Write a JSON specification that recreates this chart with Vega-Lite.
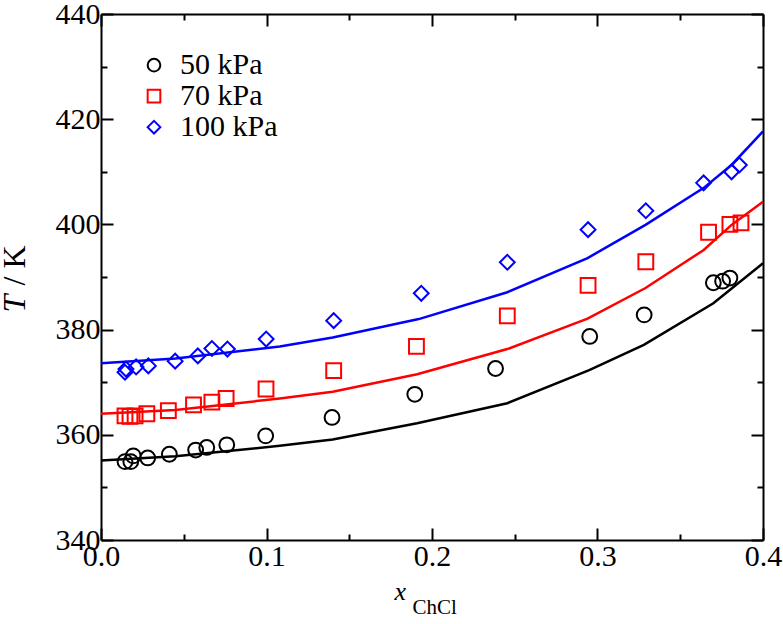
{
  "$schema": "https://vega.github.io/schema/vega-lite/v6.json",
  "width": 662,
  "height": 526,
  "autosize": "none",
  "padding": {"left": 101, "top": 14, "right": 20, "bottom": 84},
  "background": "white",
  "datasets": {
    "points": [
      {"series": "50 kPa", "x": 0.0145, "T": 354.9},
      {"series": "50 kPa", "x": 0.018, "T": 354.9},
      {"series": "50 kPa", "x": 0.0195, "T": 356.0},
      {"series": "50 kPa", "x": 0.0282, "T": 355.6},
      {"series": "50 kPa", "x": 0.0413, "T": 356.3},
      {"series": "50 kPa", "x": 0.0572, "T": 357.1},
      {"series": "50 kPa", "x": 0.0639, "T": 357.6},
      {"series": "50 kPa", "x": 0.076, "T": 358.1},
      {"series": "50 kPa", "x": 0.0995, "T": 359.8},
      {"series": "50 kPa", "x": 0.1396, "T": 363.3},
      {"series": "50 kPa", "x": 0.1896, "T": 367.7},
      {"series": "50 kPa", "x": 0.2384, "T": 372.6},
      {"series": "50 kPa", "x": 0.2953, "T": 378.7},
      {"series": "50 kPa", "x": 0.3282, "T": 382.8},
      {"series": "50 kPa", "x": 0.37, "T": 388.9},
      {"series": "50 kPa", "x": 0.3756, "T": 389.2},
      {"series": "50 kPa", "x": 0.38, "T": 389.8},
      {"series": "70 kPa", "x": 0.0145, "T": 363.6},
      {"series": "70 kPa", "x": 0.0175, "T": 363.5},
      {"series": "70 kPa", "x": 0.0206, "T": 363.6},
      {"series": "70 kPa", "x": 0.0277, "T": 364.0},
      {"series": "70 kPa", "x": 0.0407, "T": 364.6},
      {"series": "70 kPa", "x": 0.0559, "T": 365.7},
      {"series": "70 kPa", "x": 0.067, "T": 366.2},
      {"series": "70 kPa", "x": 0.0756, "T": 366.9},
      {"series": "70 kPa", "x": 0.0997, "T": 368.7},
      {"series": "70 kPa", "x": 0.1406, "T": 372.2},
      {"series": "70 kPa", "x": 0.1906, "T": 376.8},
      {"series": "70 kPa", "x": 0.2455, "T": 382.6},
      {"series": "70 kPa", "x": 0.2943, "T": 388.4},
      {"series": "70 kPa", "x": 0.3292, "T": 392.9},
      {"series": "70 kPa", "x": 0.3671, "T": 398.5},
      {"series": "70 kPa", "x": 0.38, "T": 400.0},
      {"series": "70 kPa", "x": 0.3867, "T": 400.3},
      {"series": "100 kPa", "x": 0.0145, "T": 371.9},
      {"series": "100 kPa", "x": 0.0151, "T": 372.5},
      {"series": "100 kPa", "x": 0.0212, "T": 372.9},
      {"series": "100 kPa", "x": 0.0286, "T": 373.1},
      {"series": "100 kPa", "x": 0.0448, "T": 374.0},
      {"series": "100 kPa", "x": 0.0585, "T": 375.0},
      {"series": "100 kPa", "x": 0.067, "T": 376.4},
      {"series": "100 kPa", "x": 0.0764, "T": 376.3},
      {"series": "100 kPa", "x": 0.0998, "T": 378.2},
      {"series": "100 kPa", "x": 0.1406, "T": 381.7},
      {"series": "100 kPa", "x": 0.1935, "T": 386.9},
      {"series": "100 kPa", "x": 0.2455, "T": 392.8},
      {"series": "100 kPa", "x": 0.2943, "T": 399.0},
      {"series": "100 kPa", "x": 0.3292, "T": 402.6},
      {"series": "100 kPa", "x": 0.3641, "T": 407.9},
      {"series": "100 kPa", "x": 0.381, "T": 410.0},
      {"series": "100 kPa", "x": 0.3857, "T": 411.3}
    ],
    "lines": [
      {"series": "50 kPa", "x": 0.0, "T": 355.1},
      {"series": "50 kPa", "x": 0.045, "T": 355.9},
      {"series": "50 kPa", "x": 0.108, "T": 357.9},
      {"series": "50 kPa", "x": 0.14, "T": 359.1},
      {"series": "50 kPa", "x": 0.191, "T": 362.2},
      {"series": "50 kPa", "x": 0.2455, "T": 366.0},
      {"series": "50 kPa", "x": 0.295, "T": 372.3},
      {"series": "50 kPa", "x": 0.328, "T": 377.1},
      {"series": "50 kPa", "x": 0.37, "T": 385.0},
      {"series": "50 kPa", "x": 0.4, "T": 392.6},
      {"series": "70 kPa", "x": 0.0, "T": 364.0},
      {"series": "70 kPa", "x": 0.045, "T": 364.7},
      {"series": "70 kPa", "x": 0.108, "T": 366.9},
      {"series": "70 kPa", "x": 0.14, "T": 368.2},
      {"series": "70 kPa", "x": 0.191, "T": 371.5},
      {"series": "70 kPa", "x": 0.2455, "T": 376.3},
      {"series": "70 kPa", "x": 0.294, "T": 382.1},
      {"series": "70 kPa", "x": 0.329, "T": 387.9},
      {"series": "70 kPa", "x": 0.364, "T": 395.1},
      {"series": "70 kPa", "x": 0.381, "T": 399.9},
      {"series": "70 kPa", "x": 0.4, "T": 404.3},
      {"series": "100 kPa", "x": 0.0, "T": 373.6},
      {"series": "100 kPa", "x": 0.045, "T": 374.5},
      {"series": "100 kPa", "x": 0.108, "T": 376.8},
      {"series": "100 kPa", "x": 0.14, "T": 378.5},
      {"series": "100 kPa", "x": 0.192, "T": 382.0},
      {"series": "100 kPa", "x": 0.2455, "T": 387.1},
      {"series": "100 kPa", "x": 0.294, "T": 393.6},
      {"series": "100 kPa", "x": 0.329, "T": 399.9},
      {"series": "100 kPa", "x": 0.364, "T": 406.9},
      {"series": "100 kPa", "x": 0.381, "T": 411.3},
      {"series": "100 kPa", "x": 0.4, "T": 417.7}
    ]
  },
  "config": {
    "view": {"stroke": null},
    "font": "Liberation Serif",
    "axis": {
      "grid": false,
      "domainColor": "black",
      "domainWidth": 2,
      "tickColor": "black",
      "tickWidth": 2,
      "labelFont": "Liberation Serif",
      "labelFontSize": 30,
      "labelColor": "black",
      "titleFont": "Liberation Serif",
      "titleColor": "black",
      "titleFontWeight": "normal"
    },
    "legend": {
      "labelFont": "Liberation Serif",
      "labelFontSize": 30,
      "labelColor": "black",
      "orient": "none",
      "legendX": 38,
      "legendY": 37,
      "symbolSize": 160,
      "symbolStrokeWidth": 2,
      "labelOffset": 11,
      "rowPadding": 0,
      "clipHeight": 28.3,
      "padding": 0
    }
  },
  "resolve": {"axis": {"x": "independent", "y": "independent"}, "legend": {"color": "independent", "shape": "independent"}},
  "layer": [
    {
      "data": {"name": "lines"},
      "mark": {"type": "line", "strokeWidth": 2.5, "interpolate": "linear"},
      "encoding": {
        "x": {"field": "x", "type": "quantitative",
          "scale": {"domain": [0, 0.4], "nice": false, "zero": false},
          "axis": {"orient": "bottom", "values": [0, 0.1, 0.2, 0.3, 0.4], "format": ".1f",
            "tickSize": -12, "labelPadding": 13, "labelFlush": false, "labelOverlap": false,
            "title": "x", "titleFontStyle": "italic", "titleFontSize": 26,
            "titleAnchor": "start", "titleAlign": "left", "titleBaseline": "alphabetic",
            "titleX": 293, "titleY": 59}},
        "y": {"field": "T", "type": "quantitative",
          "scale": {"domain": [340, 440], "nice": false, "zero": false},
          "axis": {"orient": "left", "values": [340, 360, 380, 400, 420, 440],
            "tickSize": -12, "labelPadding": 13, "labelFlush": false, "labelOverlap": false,
            "title": "T", "titleFontStyle": "italic", "titleFontSize": 32,
            "titleAngle": -90, "titleAlign": "left", "titleBaseline": "alphabetic",
            "titleX": -77, "titleY": 298}},
        "color": {"field": "series", "type": "nominal",
          "scale": {"domain": ["50 kPa", "70 kPa", "100 kPa"], "range": ["#000000", "#ff0000", "#0000ff"]},
          "legend": null}
      }
    },
    {
      "data": {"name": "points"},
      "mark": {"type": "point", "filled": false, "strokeWidth": 2, "size": 220, "opacity": 1},
      "encoding": {
        "x": {"field": "x", "type": "quantitative",
          "axis": {"orient": "top", "values": [0, 0.1, 0.2, 0.3, 0.4], "tickSize": -12,
            "labels": false, "title": null}},
        "y": {"field": "T", "type": "quantitative",
          "axis": {"orient": "right", "values": [340, 360, 380, 400, 420, 440], "tickSize": -12,
            "labels": false, "title": null}},
        "color": {"field": "series", "type": "nominal",
          "scale": {"domain": ["50 kPa", "70 kPa", "100 kPa"], "range": ["#000000", "#ff0000", "#0000ff"]},
          "legend": {"title": null}},
        "shape": {"field": "series", "type": "nominal",
          "scale": {"domain": ["50 kPa", "70 kPa", "100 kPa"], "range": ["circle", "square", "diamond"]},
          "legend": {"title": null}}
      }
    },
    {
      "data": {"name": "points"},
      "mark": {"type": "point", "opacity": 0},
      "encoding": {
        "x": {"field": "x", "type": "quantitative",
          "axis": {"orient": "bottom", "values": [0.05, 0.15, 0.25, 0.35], "tickSize": -6,
            "labels": false, "domain": false,
            "title": "ChCl", "titleFontSize": 21,
            "titleAnchor": "start", "titleAlign": "left", "titleBaseline": "alphabetic",
            "titleX": 311, "titleY": 73}},
        "y": {"field": "T", "type": "quantitative",
          "axis": {"orient": "left", "values": [350, 370, 390, 410, 430], "tickSize": -6,
            "labels": false, "domain": false,
            "title": "/ K", "titleFontSize": 32,
            "titleAngle": -90, "titleAlign": "left", "titleBaseline": "alphabetic",
            "titleX": -77, "titleY": 271}}
      }
    },
    {
      "data": {"name": "points"},
      "mark": {"type": "point", "opacity": 0},
      "encoding": {
        "x": {"field": "x", "type": "quantitative",
          "axis": {"orient": "top", "values": [0.05, 0.15, 0.25, 0.35], "tickSize": -6,
            "labels": false, "domain": false, "title": null}},
        "y": {"field": "T", "type": "quantitative",
          "axis": {"orient": "right", "values": [350, 370, 390, 410, 430], "tickSize": -6,
            "labels": false, "domain": false, "title": null}}
      }
    }
  ]
}
